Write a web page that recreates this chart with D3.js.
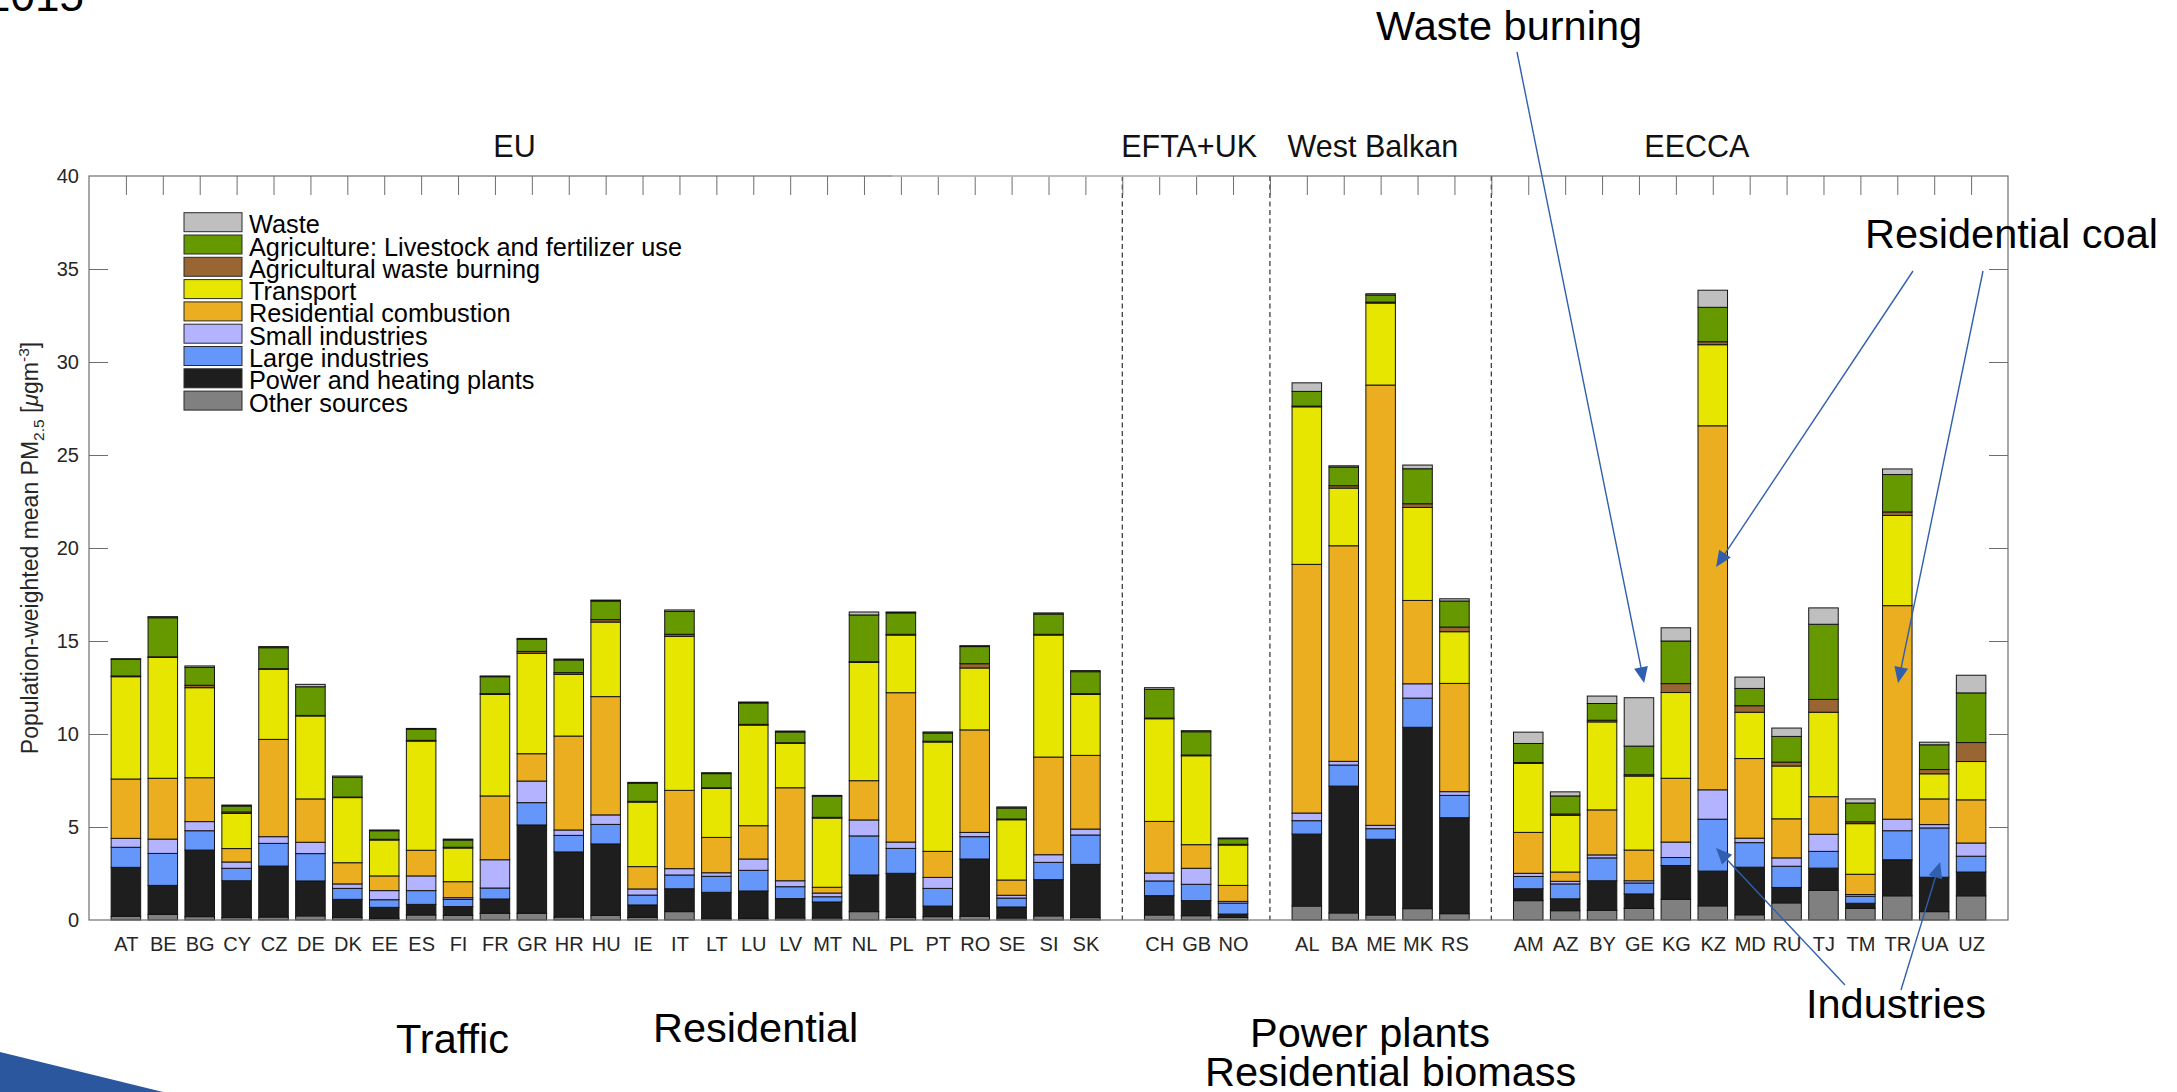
<!DOCTYPE html>
<html>
<head>
<meta charset="utf-8">
<script src="https://cdn.jsdelivr.net/npm/d3@7"></script>
<style>
  body { margin: 0; background: #fff; }
  svg { display: block; }
  text { font-family: "Liberation Sans", Arial, Helvetica, sans-serif; }
</style>
</head>
<body>
<svg id="chart" width="2177" height="1092"></svg>
<script>
// ---- Country groups (plotting order) ----
const euCountries = ["AT","BE","BG","CY","CZ","DE","DK","EE","ES","FI","FR","GR","HR","HU","IE","IT","LT","LU","LV","MT","NL","PL","PT","RO","SE","SI","SK"];
const eftaCountries = ["CH","GB","NO"];
const balkanCountries = ["AL","BA","ME","MK","RS"];
const eeccaCountries = ["AM","AZ","BY","GE","KG","KZ","MD","RU","TJ","TM","TR","UA","UZ"];
const groupNames = ["EU","EFTA+UK","West Balkan","EECCA"];

// ---- Source contributions, µg/m³ (same country order as above) ----
const otherSources = [0.20,0.30,0.18,0.13,0.16,0.22,0.13,0.09,0.27,0.25,0.36,0.36,0.16,0.25,0.14,0.45,0.07,0.09,0.11,0.11,0.45,0.14,0.18,0.20,0.11,0.22,0.13,
  0.27,0.23,0.14,
  0.75,0.38,0.27,0.61,0.34,
  1.04,0.50,0.52,0.62,1.11,0.76,0.28,0.92,1.59,0.62,1.30,0.45,1.30];
const powerHeating = [2.63,1.56,3.58,1.98,2.74,1.88,0.98,0.59,0.57,0.47,0.77,4.75,3.50,3.84,0.67,1.23,1.42,1.47,1.04,0.86,1.97,2.37,0.57,3.08,0.59,1.95,2.86,
  1.04,0.81,0.18,
  3.87,6.82,4.07,9.75,5.16,
  0.64,0.64,1.59,0.78,1.82,1.87,2.56,0.83,1.20,0.28,1.94,1.85,1.28];
const largeIndustries = [1.08,1.72,1.04,0.67,1.22,1.47,0.59,0.41,0.74,0.39,0.59,1.20,0.89,1.05,0.53,0.74,0.86,1.11,0.64,0.28,2.10,1.34,0.95,1.20,0.48,0.93,1.58,
  0.79,0.88,0.59,
  0.72,1.13,0.57,1.57,1.20,
  0.66,0.80,1.23,0.59,0.43,2.79,1.32,1.14,0.90,0.38,1.56,2.65,0.85];
const smallIndustries = [0.48,0.77,0.49,0.34,0.36,0.61,0.24,0.49,0.79,0.09,1.52,1.16,0.29,0.51,0.33,0.34,0.19,0.61,0.32,0.20,0.86,0.34,0.59,0.23,0.15,0.41,0.32,
  0.43,0.86,0.09,
  0.41,0.20,0.18,0.77,0.20,
  0.17,0.14,0.16,0.12,0.83,1.58,0.24,0.45,0.92,0.09,0.62,0.18,0.71];
const residential = [3.19,3.27,2.36,0.72,5.23,2.33,1.14,0.79,1.38,0.86,3.43,1.47,5.05,6.36,1.20,4.21,1.90,1.79,5.00,0.31,2.11,8.03,1.40,5.51,0.82,5.25,3.96,
  2.77,1.27,0.86,
  13.37,11.59,23.67,4.48,5.82,
  2.20,0.50,2.42,1.65,3.43,19.57,4.28,2.10,2.02,1.09,11.48,1.38,2.32];
const transport = [5.50,6.50,4.84,1.89,3.77,4.46,3.50,1.93,5.87,1.81,5.46,5.40,3.32,4.01,3.47,8.28,2.64,5.41,2.39,3.72,6.36,3.10,5.88,3.33,3.24,6.56,3.28,
  5.52,4.78,2.17,
  8.47,3.10,4.41,5.00,2.78,
  3.71,3.05,4.73,3.98,4.61,4.36,2.49,2.84,4.54,2.72,4.85,1.35,2.06];
const agWasteBurning = [0.04,0.03,0.13,0.08,0.03,0.03,0.03,0.04,0.04,0.04,0.04,0.10,0.09,0.13,0.04,0.11,0.03,0.04,0.03,0.04,0.04,0.04,0.04,0.23,0.04,0.04,0.04,
  0.04,0.04,0.04,
  0.04,0.13,0.05,0.20,0.25,
  0.05,0.07,0.09,0.07,0.48,0.16,0.35,0.21,0.69,0.10,0.19,0.23,1.02];
const agriculture = [0.89,2.10,0.96,0.32,1.13,1.54,1.06,0.46,0.59,0.39,0.91,0.65,0.68,1.00,0.97,1.23,0.76,1.15,0.58,1.13,2.51,1.15,0.44,0.92,0.59,1.09,1.18,
  1.54,1.25,0.30,
  0.79,1.00,0.38,1.88,1.40,
  1.02,0.97,0.90,1.54,2.29,1.85,0.93,1.38,4.04,1.01,2.01,1.33,2.67];
const waste = [0.04,0.06,0.08,0.05,0.06,0.13,0.07,0.04,0.05,0.05,0.04,0.05,0.05,0.05,0.05,0.08,0.05,0.05,0.05,0.05,0.16,0.05,0.06,0.05,0.06,0.06,0.06,
  0.09,0.06,0.04,
  0.46,0.07,0.07,0.20,0.12,
  0.61,0.22,0.40,2.60,0.71,0.92,0.61,0.45,0.88,0.22,0.30,0.14,0.95];

// Stack order, bottom to top
const seriesKeys = ["other","power","large","small","res","transport","agWaste","agri","waste"];
const seriesLabels = ["Other sources","Power and heating plants","Large industries","Small industries",
  "Residential combustion","Transport","Agricultural waste burning","Agriculture: Livestock and fertilizer use","Waste"];
const seriesValues = [otherSources, powerHeating, largeIndustries, smallIndustries, residential, transport, agWasteBurning, agriculture, waste];
const yTicks = [0,5,10,15,20,25,30,35,40];
const yMax = 40;

// ---- Styles ----
const seriesColors = ["#808080","#1e1e1e","#6596f9","#b3b3ff","#eaae20","#e6e600","#996633","#669900","#bfbfbf"];
const axisColor = "#6e6e6e";
const textColor = "#262626";
const arrowColor = "#2f5fae";

const svg = d3.select("#chart");
const plot = { left: 89, right: 2008, top: 176, bottom: 920 };

// ---- Slot layout: one empty slot between groups ----
const groups = [euCountries, eftaCountries, balkanCountries, eeccaCountries];
const slots = [];
const separators = [];
let slot = 0;
groups.forEach((members, gi) => {
  members.forEach(code => { slot += 1; slots.push({ code, pos: slot }); });
  if (gi < groups.length - 1) { slot += 1; separators.push(slot); }
});
const nSlots = slot;

const x = d3.scaleLinear().domain([0, nSlots + 1]).range([plot.left, plot.right]);
const y = d3.scaleLinear().domain([0, yMax]).range([plot.bottom, plot.top]);
const posOf = Object.fromEntries(slots.map(s => [s.code, s.pos]));

const rows = slots.map((s, i) => {
  const r = { code: s.code, pos: s.pos };
  seriesKeys.forEach((k, j) => { r[k] = seriesValues[j][i]; });
  return r;
});
const stacked = d3.stack().keys(seriesKeys)(rows);

// ---- Group separators ----
svg.append("g").selectAll("line").data(separators).join("line")
  .attr("x1", d => x(d)).attr("x2", d => x(d))
  .attr("y1", plot.top).attr("y2", plot.bottom)
  .attr("stroke", "#404040").attr("stroke-width", 1.3).attr("stroke-dasharray", "5,3.5");

// ---- Bars ----
const barHalf = 0.4;
svg.append("g").selectAll("g").data(stacked).join("g")
  .attr("fill", (d, i) => seriesColors[i])
  .selectAll("rect").data(d => d).join("rect")
  .attr("x", d => x(d.data.pos - barHalf))
  .attr("width", d => x(d.data.pos + barHalf) - x(d.data.pos - barHalf))
  .attr("y", d => y(d[1]))
  .attr("height", d => y(d[0]) - y(d[1]))
  .attr("stroke", "#141414").attr("stroke-width", 1);

// ---- Axes ----
const tickLen = 19;
const gLeft = svg.append("g").attr("transform", `translate(${plot.left},0)`)
  .call(d3.axisLeft(y).tickValues(yTicks).tickSizeInner(-tickLen).tickSizeOuter(0).tickPadding(10));
const gRight = svg.append("g").attr("transform", `translate(${plot.right},0)`)
  .call(d3.axisRight(y).tickValues(yTicks).tickSizeInner(-tickLen).tickSizeOuter(0).tickFormat(""));
const gTop = svg.append("g").attr("transform", `translate(0,${plot.top})`)
  .call(d3.axisTop(x).tickValues(d3.range(1, nSlots + 1)).tickSizeInner(-tickLen).tickSizeOuter(0).tickFormat(""));
const gBottom = svg.append("g").attr("transform", `translate(0,${plot.bottom})`)
  .call(d3.axisBottom(x).tickValues(slots.map(s => s.pos)).tickSize(0).tickPadding(17)
    .tickFormat(p => slots.find(s => s.pos === p).code));

[gLeft, gRight, gTop, gBottom].forEach(g => {
  g.select(".domain").remove();
  g.selectAll(".tick line").attr("stroke", axisColor).attr("stroke-width", 1);
  g.selectAll(".tick text").attr("fill", textColor).attr("font-size", 20)
    .attr("font-family", '"Liberation Sans", Arial, sans-serif');
});
// hide ticks at the extreme values that coincide with the frame
gLeft.selectAll(".tick line").filter(d => d === 0 || d === yMax).remove();
gRight.selectAll(".tick line").filter(d => d === 0 || d === yMax).remove();

// Axes frame
svg.append("rect")
  .attr("x", plot.left).attr("y", plot.top)
  .attr("width", plot.right - plot.left).attr("height", plot.bottom - plot.top)
  .attr("fill", "none").attr("stroke", axisColor).attr("stroke-width", 1.2);
// faded stretch of the top frame line
svg.append("line").attr("x1", 892).attr("x2", 1197).attr("y1", plot.top).attr("y2", plot.top)
  .attr("stroke", "#c6c6c6").attr("stroke-width", 1.4);

// ---- Group titles ----
const groupTitlePos = [11.53, 29.81, 34.79, 43.57];
svg.append("g").selectAll("text").data(groupNames).join("text")
  .attr("x", (d, i) => x(groupTitlePos[i])).attr("y", 157)
  .attr("text-anchor", "middle").attr("font-size", 30.5).attr("fill", "#111")
  .text(d => d);

// ---- Y label ----
const yl = svg.append("text")
  .attr("transform", `translate(38,${(plot.top + plot.bottom) / 2}) rotate(-90)`)
  .attr("text-anchor", "middle").attr("font-size", 23).attr("fill", textColor);
yl.append("tspan").text("Population-weighted mean PM");
yl.append("tspan").attr("font-size", 15.5).attr("dy", 5.5).text("2.5");
yl.append("tspan").attr("dy", -5.5).text(" [");
yl.append("tspan").attr("font-style", "italic").text("\u03bc");
yl.append("tspan").text("gm");
yl.append("tspan").attr("font-size", 15.5).attr("dy", -9).text("-3");
yl.append("tspan").attr("dy", 9).text("]");

// ---- Legend (top of stack first) ----
const legendItems = seriesKeys.map((k, i) => ({ label: seriesLabels[i], color: seriesColors[i] })).reverse();
const legend = svg.append("g").attr("transform", "translate(184,212.7)");
const li = legend.selectAll("g").data(legendItems).join("g")
  .attr("transform", (d, i) => `translate(0,${i * 22.3})`);
li.append("rect").attr("width", 58).attr("height", 19)
  .attr("fill", d => d.color).attr("stroke", "#2a2a2a").attr("stroke-width", 1);
li.append("text").attr("x", 65).attr("y", 20.5).attr("font-size", 25.3).attr("fill", "#000")
  .text(d => d.label);

// ---- Slide annotations ----
svg.append("text").attr("x", 84).attr("y", 11).attr("text-anchor", "end")
  .attr("font-size", 44).attr("fill", "#000").text("2015");

svg.append("path").attr("d", "M0,1052 L163,1092 L0,1092 Z").attr("fill", "#2b579f");

const notes = [
  { text: "Waste burning", x: 1376, y: 40 },
  { text: "Residential coal", x: 1865, y: 248 },
  { text: "Industries", x: 1806, y: 1018 },
  { text: "Traffic", x: 396, y: 1053 },
  { text: "Residential", x: 653, y: 1042 },
  { text: "Power plants", x: 1250, y: 1047 },
  { text: "Residential biomass", x: 1205, y: 1086 }
];
svg.append("g").selectAll("text").data(notes).join("text")
  .attr("x", d => d.x).attr("y", d => d.y).attr("font-size", 41.5).attr("fill", "#000")
  .text(d => d.text);

// arrows: start at the note, tip given in data coordinates (country, offset, value)
const arrows = [
  { from: [1517, 52],  code: "GE", dx: 0.14, value: 12.74 },
  { from: [1913, 271], code: "KZ", dx: 0.09, value: 18.98 },
  { from: [1983, 271], code: "TR", dx: 0.02, value: 12.74 },
  { from: [1845, 985], code: "KZ", dx: 0.09, value: 3.87 },
  { from: [1901, 990], code: "UA", dx: 0.16, value: 3.12 }
];
const ga = svg.append("g");
arrows.forEach(a => {
  const tx = x(posOf[a.code] + a.dx), ty = y(a.value);
  const [sx, sy] = a.from;
  const len = Math.hypot(tx - sx, ty - sy);
  const ux = (tx - sx) / len, uy = (ty - sy) / len;
  const headL = 16, headW = 7;
  const bx = tx - ux * headL, by = ty - uy * headL;
  ga.append("line").attr("x1", sx).attr("y1", sy).attr("x2", bx + ux * 2).attr("y2", by + uy * 2)
    .attr("stroke", arrowColor).attr("stroke-width", 1.4);
  ga.append("path")
    .attr("d", `M${tx},${ty} L${bx - uy * headW},${by + ux * headW} L${bx + uy * headW},${by - ux * headW} Z`)
    .attr("fill", arrowColor);
});
</script>
</body>
</html>
